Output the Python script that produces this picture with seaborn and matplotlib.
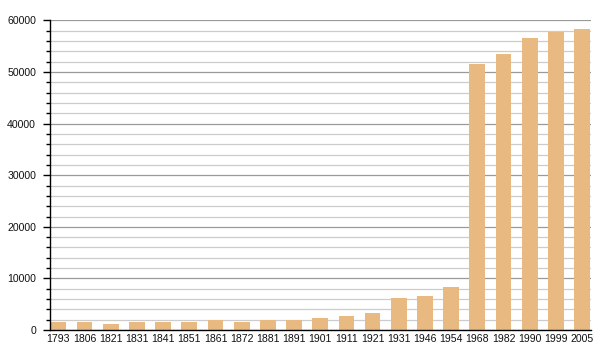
import matplotlib
matplotlib.use("Agg")
import matplotlib.pyplot as plt
import seaborn as sns
import pandas as pd
from matplotlib.ticker import MultipleLocator

years = ["1793", "1806", "1821", "1831", "1841", "1851", "1861", "1872", "1881", "1891",
         "1901", "1911", "1921", "1931", "1946", "1954", "1968", "1982", "1990", "1999", "2005"]
population = [1600, 1600, 1200, 1600, 1600, 1600, 1880, 1600, 1930, 1950,
              2320, 2700, 3350, 6200, 6600, 8300, 51500, 53600, 56700, 57800, 58400]
y_ticks = [0, 10000, 20000, 30000, 40000, 50000, 60000]

df = pd.DataFrame({"year": years, "population": population})

sns.set_theme(style="white")
plt.rcParams["font.family"] = ["Liberation Sans", "DejaVu Sans"]

fig = plt.figure(figsize=(6, 3.6), dpi=100)
ax = fig.add_axes([50 / 600, 30 / 360, 541 / 600, 309.5 / 360])

sns.barplot(data=df, x="year", y="population", color="#E8BA82", saturation=1,
            width=0.6, ax=ax, zorder=3, linewidth=0, edgecolor="none")

n = len(years)
ax.set_xlim(-0.32, n - 1 + 0.34)
ax.set_ylim(0, 60000)
ax.set_yticks(y_ticks)
ax.set_yticklabels([str(v) for v in y_ticks])
ax.yaxis.set_minor_locator(MultipleLocator(2000))
ax.grid(axis="y", which="major", color="#9a9a9a", linewidth=0.9, zorder=0)
ax.grid(axis="y", which="minor", color="#cccccc", linewidth=0.9, zorder=0)
ax.set_axisbelow(True)

for s in ["top", "right"]:
    ax.spines[s].set_visible(False)
for s in ["left", "bottom"]:
    ax.spines[s].set_color("black")
    ax.spines[s].set_linewidth(1.0)
    ax.spines[s].set_zorder(5)

ax.tick_params(axis="y", which="major", left=True, length=5, width=1, color="black",
               labelsize=7.6, pad=5, labelcolor="#111111")
ax.tick_params(axis="y", which="minor", left=True, length=3, width=1, color="black")
ax.tick_params(axis="x", which="both", bottom=False, length=0, labelsize=7.6, pad=3,
               labelcolor="#111111")
ax.set_xlabel("")
ax.set_ylabel("")

fig.savefig("out.png", dpi=100)
